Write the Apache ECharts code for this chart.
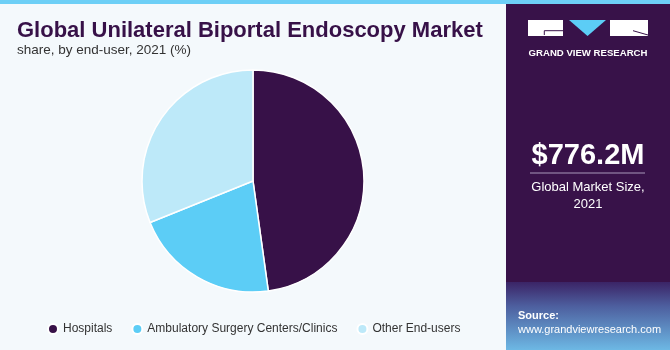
<!DOCTYPE html>
<html><head><meta charset="utf-8">
<script src="https://cdn.jsdelivr.net/npm/echarts@6/dist/echarts.min.js"></script>
<style>html,body{margin:0;padding:0;background:#f4f9fc}#c{width:670px;height:350px}</style>
</head><body><div id="c"></div>
<script>
const categories = ["Hospitals", "Ambulatory Surgery Centers/Clinics", "Other End-users"];
const shares = [47.8, 21.1, 31.1];
const colors = ["#371148", "#5ccdf6", "#bde9f9"];
const titleText = "Global Unilateral Biportal Endoscopy Market";
const subtitleText = "share, by end-user, 2021 (%)";
const marketSize = "$776.2M";
const marketLabel = "Global Market Size,\n2021";

const chart = echarts.init(document.getElementById('c'));
chart.setOption({
  backgroundColor: '#f4f9fc',
  animation: false,
  title: {
    text: titleText, subtext: subtitleText, left: 12, top: 15, itemGap: 1,
    textStyle: {fontFamily: 'Liberation Sans', fontWeight: 'bold', fontSize: 22, color: '#371148'},
    subtextStyle: {fontFamily: 'Liberation Sans', fontSize: 13.5, color: '#333'}
  },
  legend: {
    bottom: 10, left: 42, itemWidth: 10, itemHeight: 10, itemGap: 19, icon: 'circle',
    textStyle: {fontFamily: 'Liberation Sans', fontSize: 12, color: '#333'},
    data: categories
  },
  series: [{
    type: 'pie', center: [253, 181], radius: [0, 111], startAngle: 90, clockwise: true,
    label: {show: false}, labelLine: {show: false},
    itemStyle: {borderColor: '#fff', borderWidth: 1.5},
    data: categories.map((n, i) => ({name: n, value: shares[i], itemStyle: {color: colors[i]}}))
  }],
  graphic: [
    {type: 'rect', shape: {x: 0, y: 0, width: 670, height: 4}, style: {fill: '#6dcff6'}, z: 10},
    {type: 'rect', shape: {x: 506, y: 4, width: 164, height: 346}, style: {fill: '#381249'}, z: 1},
    {type: 'rect', shape: {x: 506, y: 282, width: 164, height: 68}, z: 2,
      style: {fill: new echarts.graphic.LinearGradient(0, 0, 0, 1, [
        {offset: 0, color: '#3b2466'}, {offset: 0.35, color: '#4d5e9e'}, {offset: 1, color: '#6db8e4'}])}},
    {type: 'rect', shape: {x: 528, y: 20, width: 35, height: 16}, style: {fill: '#fff'}, z: 3},
    {type: 'polyline', shape: {points: [[563, 30.7], [544.3, 30.7], [544.3, 35]]}, style: {stroke: '#381249', lineWidth: 1, fill: null}, z: 4},
    {type: 'polygon', shape: {points: [[569, 20], [606, 20], [587.5, 36]]}, style: {fill: '#5ccdf6'}, z: 3},
    {type: 'rect', shape: {x: 610, y: 20, width: 38, height: 16}, style: {fill: '#fff'}, z: 3},
    {type: 'line', shape: {x1: 633, y1: 30.7, x2: 648, y2: 35}, style: {stroke: '#381249', lineWidth: 1}, z: 4},
    {type: 'text', x: 588, y: 48, z: 3, style: {text: 'GRAND VIEW RESEARCH', fill: '#fff', font: 'bold 9.6px "Liberation Sans"', align: 'center'}},
    {type: 'text', x: 588, y: 141, z: 3, style: {text: marketSize, fill: '#fff', font: 'bold 29px "Liberation Sans"', align: 'center'}},
    {type: 'line', shape: {x1: 530, y1: 173, x2: 645, y2: 173}, style: {stroke: '#a898bb', lineWidth: 1}, z: 3},
    {type: 'text', x: 588, y: 179, z: 3, style: {text: marketLabel, fill: '#fff', font: '13px "Liberation Sans"', align: 'center', lineHeight: 17}},
    {type: 'text', x: 518, y: 310, z: 3, style: {text: 'Source:', fill: '#fff', font: 'bold 11px "Liberation Sans"'}},
    {type: 'text', x: 518, y: 324, z: 3, style: {text: 'www.grandviewresearch.com', fill: '#fff', font: '11px "Liberation Sans"'}}
  ]
});
</script></body></html>
